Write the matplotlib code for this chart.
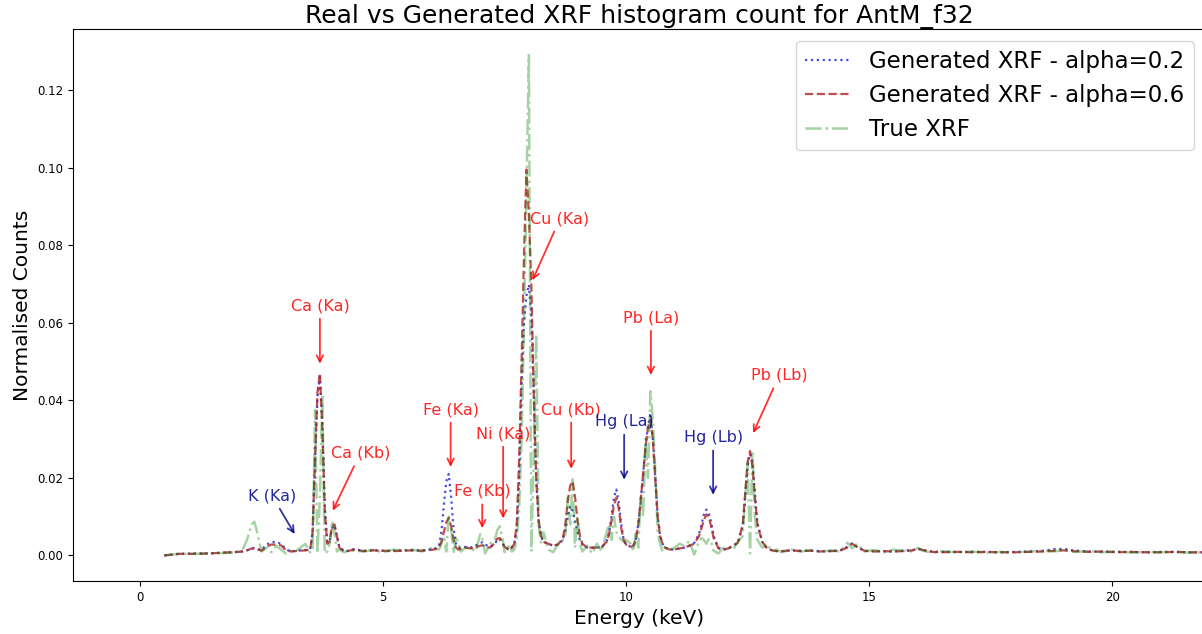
import matplotlib
matplotlib.use("Agg")
import matplotlib.pyplot as plt

# Energy bins (keV), grouped by region of the spectrum
energy = [
    0.5, 0.8, 1.1, 1.4, 1.7, 2.0,
    2.1, 2.2, 2.3, 2.35, 2.4, 2.5, 2.6, 2.7, 2.8, 2.9, 3.0, 3.1, 3.2, 3.3, 3.4, 3.5,
    3.55, 3.6, 3.65, 3.7, 3.75, 3.8, 3.85, 3.9, 3.95, 4.0, 4.05, 4.1, 4.2, 4.3,
    4.4, 4.6, 4.8, 5.0, 5.2, 5.4, 5.6, 5.8, 5.95,
    6.05, 6.15, 6.2, 6.25, 6.3, 6.35, 6.4, 6.45, 6.5, 6.55, 6.6, 6.7,
    6.8, 6.9, 7.0, 7.05, 7.1, 7.2, 7.3, 7.35, 7.4, 7.45, 7.5, 7.6, 7.65,
    7.7, 7.75, 7.8, 7.85, 7.9, 7.95, 8.0, 8.05, 8.1, 8.15, 8.2, 8.25, 8.3, 8.4,
    8.5, 8.6, 8.7, 8.75, 8.8, 8.85, 8.9, 8.95, 9.0, 9.05, 9.1, 9.2, 9.3,
    9.4, 9.5, 9.6, 9.65, 9.7, 9.75, 9.8, 9.85, 9.9, 9.95, 10.0, 10.1, 10.15, 10.2,
    10.25, 10.3, 10.35, 10.4, 10.45, 10.5, 10.55, 10.6, 10.65, 10.7, 10.75, 10.8, 10.9,
    11.0, 11.1, 11.2, 11.3, 11.4, 11.5, 11.55, 11.6, 11.65, 11.7, 11.75, 11.8, 11.9, 12.0,
    12.1, 12.2, 12.3, 12.4, 12.45, 12.5, 12.55, 12.6, 12.65, 12.7, 12.8, 12.9, 13.0, 13.1, 13.2,
    13.4, 13.6, 13.8, 14.0, 14.2, 14.4, 14.55, 14.65, 14.75, 14.9, 15.1, 15.3, 15.5, 15.7,
    15.9, 16.0, 16.1, 16.3, 16.5, 16.8, 17.1, 17.4, 17.7, 18.0, 18.3, 18.6, 18.8, 19.0,
    19.2, 19.5, 19.8, 20.1, 20.4, 20.7, 21.0, 21.3, 21.6, 21.9,
]

gen_alpha02 = [
    .0000, .0004, .0005, .0005, .0007, .0009,
    .0010, .0013, .0017, .0018, .0016, .0014, .0028, .0034, .0035, .0030, .0016, .0010, .0012, .0013, .0014, .0016,
    .0060, .0240, .0410, .0460, .0340, .0130, .0035, .0035, .0070, .0078, .0050, .0022, .0011, .0012,
    .0016, .0012, .0013, .0012, .0012, .0013, .0013, .0013, .0015,
    .0016, .0025, .0060, .0130, .0190, .0210, .0150, .0070, .0030, .0020, .0020, .0022,
    .0020, .0025, .0032, .0034, .0028, .0022, .0030, .0040, .0042, .0032, .0022, .0015, .0020,
    .0030, .0070, .0200, .0450, .0600, .0670, .0698, .0620, .0420, .0200, .0090, .0050, .0035, .0030,
    .0025, .0028, .0040, .0065, .0100, .0127, .0115, .0090, .0060, .0040, .0028, .0020, .0020,
    .0020, .0022, .0035, .0060, .0100, .0150, .0170, .0135, .0080, .0040, .0028, .0022, .0025, .0040,
    .0080, .0140, .0210, .0280, .0335, .0360, .0300, .0200, .0100, .0050, .0030, .0020, .0015,
    .0015, .0018, .0020, .0025, .0032, .0055, .0080, .0105, .0118, .0110, .0085, .0050, .0020, .0015,
    .0018, .0025, .0033, .0075, .0150, .0230, .0262, .0240, .0160, .0085, .0035, .0018, .0013, .0011, .0011,
    .0013, .0012, .0012, .0011, .0011, .0013, .0022, .0031, .0022, .0012, .0011, .0011, .0010, .0012,
    .0014, .0017, .0014, .0010, .0009, .0009, .0009, .0009, .0008, .0009, .0010, .0012, .0016, .0017,
    .0013, .0010, .0010, .0009, .0009, .0008, .0009, .0009, .0008, .0008,
]

gen_alpha06 = [
    .0000, .0004, .0004, .0005, .0007, .0009,
    .0010, .0013, .0018, .0019, .0017, .0012, .0022, .0028, .0028, .0026, .0014, .0010, .0011, .0012, .0013, .0015,
    .0060, .0250, .0420, .0470, .0330, .0120, .0030, .0035, .0075, .0080, .0050, .0020, .0010, .0012,
    .0015, .0011, .0013, .0012, .0011, .0012, .0013, .0012, .0014,
    .0015, .0020, .0035, .0060, .0085, .0097, .0075, .0040, .0020, .0015, .0017, .0020,
    .0018, .0020, .0025, .0026, .0022, .0020, .0032, .0043, .0045, .0035, .0022, .0013, .0020,
    .0030, .0080, .0250, .0500, .0780, .0995, .0880, .0700, .0420, .0200, .0090, .0050, .0035, .0030,
    .0025, .0028, .0045, .0080, .0140, .0180, .0191, .0150, .0090, .0050, .0030, .0020, .0020,
    .0020, .0022, .0035, .0055, .0090, .0130, .0149, .0120, .0070, .0040, .0028, .0022, .0025, .0040,
    .0080, .0140, .0210, .0280, .0330, .0350, .0300, .0200, .0100, .0050, .0030, .0020, .0015,
    .0015, .0018, .0020, .0025, .0030, .0050, .0070, .0090, .0106, .0100, .0075, .0045, .0018, .0015,
    .0018, .0025, .0033, .0080, .0160, .0240, .0269, .0230, .0150, .0080, .0035, .0018, .0013, .0011, .0011,
    .0013, .0011, .0012, .0010, .0011, .0012, .0020, .0030, .0022, .0012, .0010, .0011, .0010, .0011,
    .0013, .0018, .0014, .0009, .0008, .0009, .0008, .0009, .0008, .0008, .0009, .0010, .0012, .0013,
    .0011, .0009, .0010, .0008, .0009, .0008, .0008, .0009, .0008, .0008,
]

true_xrf = [
    .0000, .0004, .0004, .0005, .0006, .0008,
    .0012, .0040, .0080, .0087, .0065, .0010, .0020, .0008, .0025, .0015, .0005, .0012, .0010, .0020, .0030, .0008,
    .0010, .0375, .0005, .0150, .0416, .0005, .0010, .0030, .0088, .0060, .0010, .0015, .0008, .0012,
    .0012, .0010, .0014, .0008, .0015, .0013, .0015, .0010, .0018,
    .0018, .0015, .0030, .0050, .0010, .0100, .0070, .0005, .0050, .0030, .0010, .0020,
    .0020, .0010, .0055, .0040, .0005, .0030, .0040, .0065, .0075, .0050, .0008, .0030, .0010,
    .0015, .0040, .0120, .0300, .0600, .0950, .1290, .0010, .0250, .0570, .0080, .0030, .0060, .0015,
    .0008, .0030, .0040, .0050, .0150, .0080, .0196, .0020, .0100, .0030, .0010, .0025, .0005,
    .0030, .0010, .0060, .0080, .0040, .0100, .0060, .0050, .0040, .0035, .0040, .0030, .0010, .0060,
    .0020, .0150, .0100, .0300, .0200, .0423, .0350, .0220, .0060, .0030, .0010, .0020, .0015,
    .0020, .0030, .0025, .0037, .0002, .0035, .0045, .0040, .0030, .0042, .0035, .0012, .0005, .0020,
    .0020, .0015, .0035, .0050, .0150, .0240, .0005, .0270, .0100, .0040, .0020, .0030, .0010, .0015, .0008,
    .0015, .0010, .0014, .0009, .0013, .0010, .0033, .0018, .0030, .0010, .0014, .0008, .0015, .0012,
    .0010, .0020, .0012, .0007, .0011, .0008, .0010, .0007, .0009, .0008, .0010, .0012, .0010, .0014,
    .0009, .0011, .0008, .0010, .0007, .0009, .0008, .0009, .0007, .0008,
]

# Peak labels: (text, arrow tip, text centre, colour)
red_c = "red"
blue_c = "darkblue"
peaks = [
    ("K (Ka)", (3.21, 0.0049), (2.72, 0.0153), blue_c),
    ("Ca (Ka)", (3.70, 0.0487), (3.70, 0.0644), red_c),
    ("Ca (Kb)", (3.94, 0.0109), (4.53, 0.0263), red_c),
    ("Fe (Ka)", (6.39, 0.0221), (6.39, 0.0376), red_c),
    ("Fe (Kb)", (7.04, 0.0063), (7.04, 0.0165), red_c),
    ("Ni (Ka)", (7.47, 0.0088), (7.47, 0.0314), red_c),
    ("Cu (Ka)", (8.05, 0.0703), (8.64, 0.0868), red_c),
    ("Cu (Kb)", (8.87, 0.0216), (8.87, 0.0376), red_c),
    ("Hg (La)", (9.96, 0.0188), (9.96, 0.0345), blue_c),
    ("Pb (La)", (10.51, 0.0458), (10.51, 0.0613), red_c),
    ("Hg (Lb)", (11.79, 0.0149), (11.79, 0.0304), blue_c),
    ("Pb (Lb)", (12.59, 0.0309), (13.15, 0.0464), red_c),
]

fig = plt.figure(figsize=(12.02, 6.34), dpi=100)
ax = fig.add_axes([0.0607, 0.0836, 0.9418, 0.8699])

ax.plot(energy, gen_alpha02, linestyle=":", color="mediumblue", alpha=0.7,
        lw=1.6, label="Generated XRF - alpha=0.2")
ax.plot(energy, gen_alpha06, linestyle="--", color="firebrick", alpha=0.8,
        lw=1.6, label="Generated XRF - alpha=0.6")
ax.plot(energy, true_xrf, linestyle="-.", color="green", alpha=0.35,
        lw=1.8, label="True XRF")

for text, tip, pos, col in peaks:
    ax.annotate(text, xy=tip, xytext=pos, ha="center", va="center",
                color=col, alpha=0.85, fontsize=11.5,
                arrowprops=dict(arrowstyle="->", color=col, alpha=0.8, lw=1.3))

ax.set_xlim(-1.38, 21.91)
ax.set_ylim(-0.0066, 0.1356)
ax.set_xticks([0, 5, 10, 15, 20])
ax.tick_params(labelsize=8.5)
ax.set_xlabel("Energy (keV)", fontsize=14.5)
ax.set_ylabel("Normalised Counts", fontsize=14.5)
ax.set_title("Real vs Generated XRF histogram count for AntM_f32", fontsize=18, pad=5)
ax.legend(loc="upper right", fontsize=16.5, labelspacing=0.48)

fig.savefig("out.png", dpi=100)
